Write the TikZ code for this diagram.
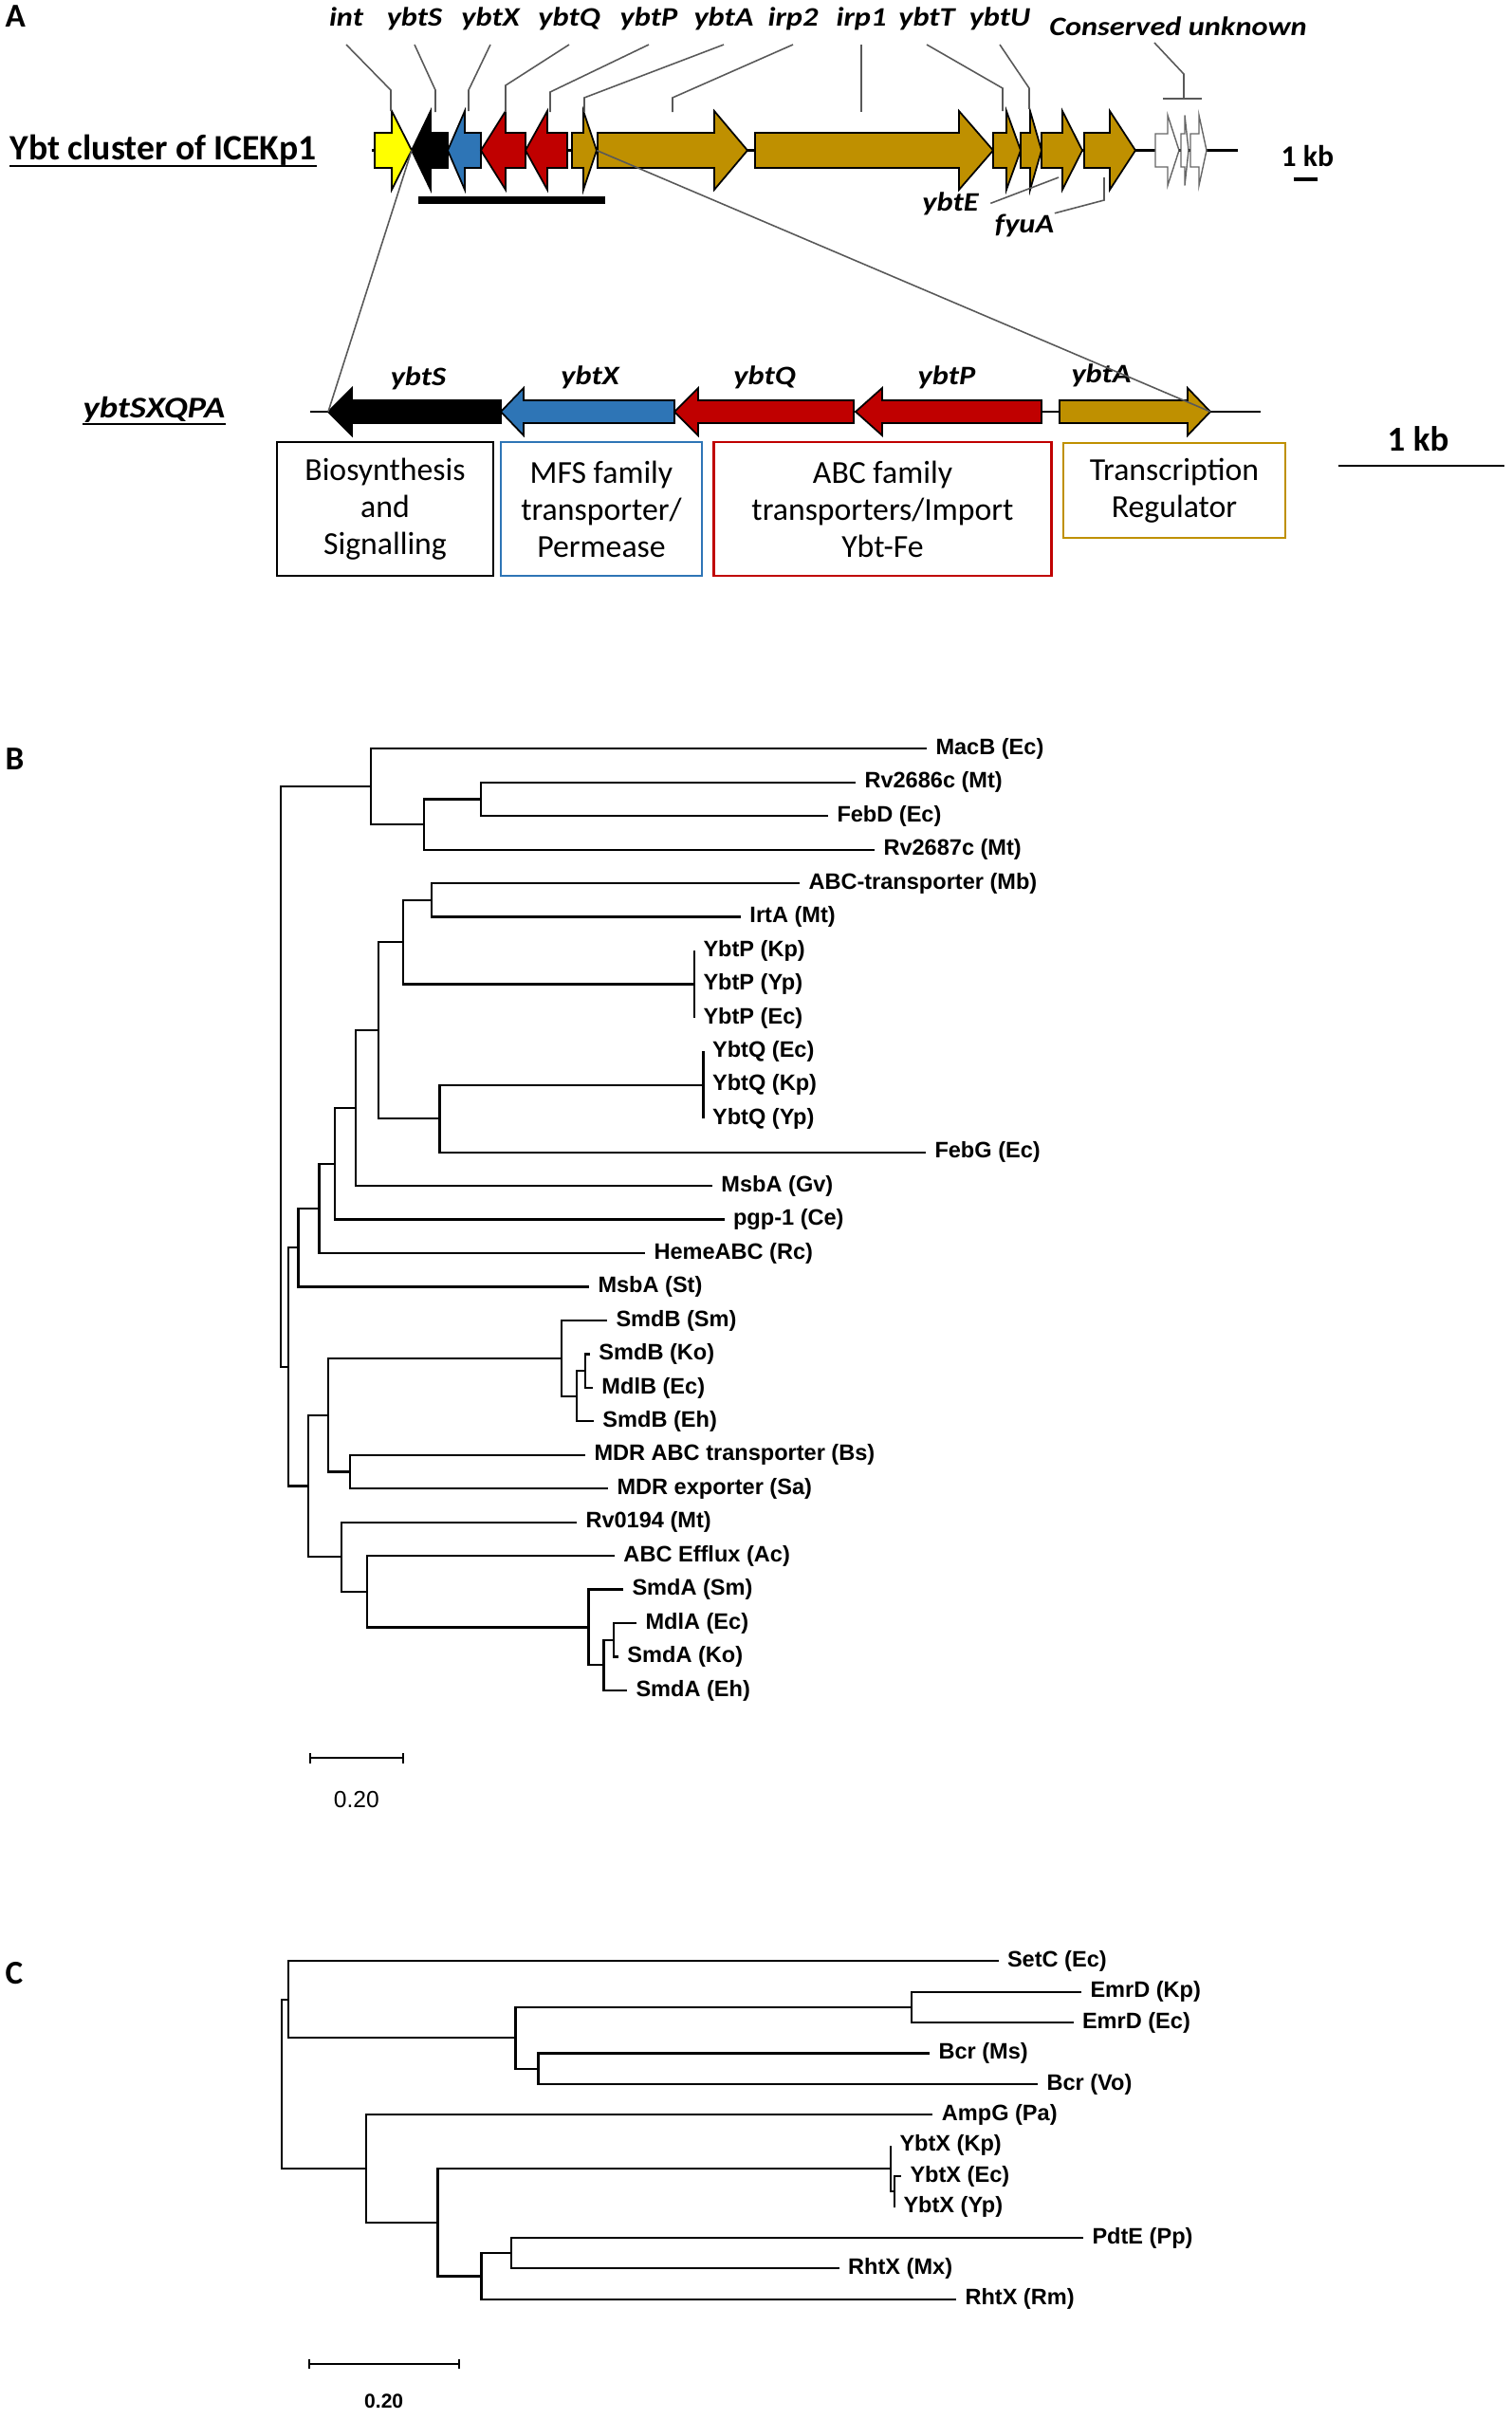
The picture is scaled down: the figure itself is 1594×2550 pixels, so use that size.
\documentclass[tikz,border=0pt]{standalone}
\usepackage{fontspec}
\setmainfont{Carlito}
\newfontfamily\treefont{Liberation Sans}
\usepackage{graphicx}
\usepackage{tikz}

\definecolor{gyellow}{HTML}{FFFF00}
\definecolor{gblue}{HTML}{2E75B6}
\definecolor{gred}{HTML}{C00000}
\definecolor{ggold}{HTML}{BF9000}

% gene name: bold italic, slightly stretched
\newcommand{\gname}[1]{\scalebox{1.15}[1]{\fontsize{8}{9.6}\selectfont\bfseries\itshape #1}}
% gene arrows: row centre \gy, body half height \gb, head half height \gh
\newcommand{\fwdgene}[4]{\filldraw[gene, fill=#4] (#1,\gy-\gb) -- (#2,\gy-\gb) -- (#2,\gy-\gh) -- (#3,\gy) -- (#2,\gy+\gh) -- (#2,\gy+\gb) -- (#1,\gy+\gb) -- cycle;}
\newcommand{\revgene}[4]{\filldraw[gene, fill=#4] (#1,\gy) -- (#2,\gy-\gh) -- (#2,\gy-\gb) -- (#3,\gy-\gb) -- (#3,\gy+\gb) -- (#2,\gy+\gb) -- (#2,\gy+\gh) -- cycle;}

\begin{document}
\begin{tikzpicture}[x=0.01cm, y=-0.01cm,
  gene/.style={draw=black, line width=0.5pt},
  blank/.style={draw=black!60, line width=0.4pt, fill=white},
  leader/.style={draw=black!65, line width=0.45pt},
  backbone/.style={line width=0.8pt},
  gtag/.style={anchor=base, inner sep=0pt},
  fbox/.style={draw, line width=0.8pt, align=center, inner sep=0pt, font=\fontsize{9.6}{11.1}\selectfont},
  plabel/.style={anchor=base west, inner sep=0pt, font=\fontsize{10}{12}\selectfont\bfseries},
  branch/.style={line width=0.65pt},
  leafB/.style={anchor=west, inner xsep=2.5pt, inner ysep=0pt, text height=4.9pt, text depth=1.4pt, font=\treefont\bfseries\fontsize{6.7}{8}\selectfont},
  scaletxt/.style={inner sep=0pt, font=\treefont\fontsize{7}{8}\selectfont}]
\useasboundingbox (0,0) rectangle (1594,2550);

% Panel labels
\node[plabel] (pa) at (5,28) {A};
\node[plabel] (pb) at (5,811) {B};
\node[plabel] (pc) at (5,2091) {C};

% ---------------- Panel A: Ybt cluster ----------------
\node[anchor=base west, inner sep=0pt, font=\fontsize{10.7}{13}\selectfont\bfseries] (lcluster) at (10,168) {Ybt cluster of ICEKp1};
\draw[line width=0.8pt] ([yshift=-0.07cm]lcluster.base west) -- ([yshift=-0.07cm]lcluster.base east);

% Draw backbone and genes
\draw[backbone] (392,158.5) -- (1305,158.5);
\def\gy{158.5}\def\gb{18.5}\def\gh{41.5}
\fwdgene{395}{413}{434}{gyellow}
\revgene{434}{454}{472}{black}
\revgene{472}{490}{507}{gblue}
\revgene{507}{533}{554}{gred}
\revgene{554}{577}{598}{gred}
\fwdgene{603}{615}{629}{ggold}
\fwdgene{630}{753}{788}{ggold}
\fwdgene{796}{1011}{1047}{ggold}
\fwdgene{1047}{1061}{1076}{ggold}
\fwdgene{1076}{1086}{1098}{ggold}
\fwdgene{1098}{1120}{1141}{ggold}
\fwdgene{1143}{1170}{1197}{ggold}
\filldraw[blank] (1218,141) -- (1231,141) -- (1231,121.5) -- (1243,158.5) -- (1231,195.5) -- (1231,176) -- (1218,176) -- cycle;
\filldraw[blank] (1245,141) -- (1249,141) -- (1249,121.5) -- (1253,158.5) -- (1249,195.5) -- (1249,176) -- (1245,176) -- cycle;
\filldraw[blank] (1255,141) -- (1264,141) -- (1264,121.5) -- (1272,158.5) -- (1264,195.5) -- (1264,176) -- (1255,176) -- cycle;

% Region bar under ybtS-ybtA
\draw[line width=2pt] (441,211) -- (638,211);

% Scale
\node[anchor=base west, inner sep=0pt, font=\fontsize{9}{11}\selectfont\bfseries] (kbtop) at (1350,175) {1 kb};
\draw[line width=1pt] (1364,189) -- (1389,189);

% Gene names and leaders
\coordinate (gint) at (412,117);
\coordinate (gybtS) at (459,118);
\coordinate (gybtX) at (494,117);
\coordinate (gybtQ) at (533,118);
\coordinate (gybtP) at (580,118);
\coordinate (gybtA) at (616,118);
\coordinate (girp2) at (709,118);
\coordinate (girp1) at (908,118);
\coordinate (gybtT) at (1057,117);
\coordinate (gybtU) at (1085,115);
\coordinate (gcons) at (1248,104);
\coordinate (gybtE) at (1116,187);
\coordinate (gfyuA) at (1164,187);

\node[gtag] (lint) at (365,27) {\gname{int}};
\node[gtag] (lybtS) at (437,27) {\gname{ybtS}};
\node[gtag] (lybtX) at (517,27) {\gname{ybtX}};
\node[gtag] (lybtQ) at (600,27) {\gname{ybtQ}};
\node[gtag] (lybtP) at (684,27) {\gname{ybtP}};
\node[gtag] (lybtA) at (763,27) {\gname{ybtA}};
\node[gtag] (lirp2) at (836,27) {\gname{irp2}};
\node[gtag] (lirp1) at (908,27) {\gname{irp1}};
\node[gtag] (lybtT) at (977,27) {\gname{ybtT}};
\node[gtag] (lybtU) at (1054,27) {\gname{ybtU}};
\node[gtag] (lcons) at (1242,37) {\gname{Conserved unknown}};
\node[gtag] (lybtE) at (1002,222) {\gname{ybtE}};
\node[gtag] (lfyuA) at (1080,245) {\gname{fyuA}};

\draw[leader] ([yshift=-0.2cm]lint.base) -- (412,95) -- (gint);
\draw[leader] ([yshift=-0.2cm]lybtS.base) -- (459,95) -- (gybtS);
\draw[leader] ([yshift=-0.2cm]lybtX.base) -- (494,95) -- (gybtX);
\draw[leader] ([yshift=-0.2cm]lybtQ.base) -- (533,90) -- (gybtQ);
\draw[leader] ([yshift=-0.2cm]lybtP.base) -- (580,97) -- (gybtP);
\draw[leader] ([yshift=-0.2cm]lybtA.base) -- (616,103) -- (gybtA);
\draw[leader] ([yshift=-0.2cm]lirp2.base) -- (709,103) -- (girp2);
\draw[leader] ([yshift=-0.2cm]lirp1.base) -- (girp1);
\draw[leader] ([yshift=-0.2cm]lybtT.base) -- (1057,93) -- (gybtT);
\draw[leader] ([yshift=-0.2cm]lybtU.base) -- (1085,93) -- (gybtU);
\draw[leader] ([xshift=-0.25cm,yshift=-0.08cm]lcons.base) -- (1248,78) -- (gcons);
\draw[leader] (1226,104) -- (1267,104);
\draw[leader] ([xshift=0.12cm]lybtE.east) -- (gybtE);
\draw[leader] (lfyuA.north east) -- (1164,211) -- (gfyuA);

% ---------------- Panel A: ybtSXQPA enlarged ----------------
\node[anchor=base west, inner sep=0pt, font=\fontsize{9}{11}\selectfont\bfseries\itshape] (lsxqpa) at (87,440) {\scalebox{1.16}[1]{ybtSXQPA}};
\draw[line width=0.8pt] ([yshift=-0.07cm]lsxqpa.base west) -- ([yshift=-0.07cm]lsxqpa.base east);

\draw[backbone] (327,434) -- (1329,434);
\def\gy{434}\def\gb{12}\def\gh{25}
\revgene{346}{371}{528}{black}
\revgene{528}{552}{711}{gblue}
\revgene{711}{736}{900}{gred}
\revgene{902}{930}{1098}{gred}
\fwdgene{1117}{1252}{1276}{ggold}

\node[gtag] (sS) at (441,406) {\gname{ybtS}};
\node[gtag] (sX) at (622,405) {\gname{ybtX}};
\node[gtag] (sQ) at (806,405) {\gname{ybtQ}};
\node[gtag] (sP) at (998,405) {\gname{ybtP}};
\node[gtag] (sA) at (1161,403) {\gname{ybtA}};

% Zoom lines
\coordinate (topS) at (434,158.5);
\coordinate (lowS) at (346,434);
\coordinate (topA) at (629,158.5);
\coordinate (lowA) at (1276,434);
\draw[leader] (topS) -- (lowS);
\draw[leader] (topA) -- (lowA);

% Function boxes
\node[fbox, draw=black, minimum width=2.28cm, minimum height=1.41cm] (fbio) at (406,536.5) {Biosynthesis\\and\\Signalling};
\node[fbox, draw=gblue, minimum width=2.12cm, minimum height=1.41cm] (fmfs) at (634,536.5) {MFS family\\transporter/\\Permease};
\node[fbox, draw=gred, minimum width=3.55cm, minimum height=1.41cm] (fabc) at (930.5,536.5) {ABC family\\transporters/Import\\Ybt-Fe};
\node[fbox, draw=ggold, minimum width=2.34cm, minimum height=1.0cm] (freg) at (1238,517) {Transcription\\Regulator};

\node[anchor=base west, inner sep=0pt, font=\fontsize{10.5}{12}\selectfont\bfseries] (kblow) at (1462,475) {1 kb};
\draw[line width=0.8pt] (1411,491) -- (1586,491);

% ---------------- Panel B: ABC transporter tree ----------------
\coordinate (bR) at (296,1135);
\coordinate (bA) at (391,829.2);
\coordinate (bA2) at (447,869.1);
\coordinate (bA3) at (507,842.5);
\coordinate (bZ) at (303.7,1440.9);
\coordinate (n314) at (314.6,1315.25);
\coordinate (n336) at (336.6,1274);
\coordinate (n352) at (352.7,1226.9);
\coordinate (n375) at (375,1168.2);
\coordinate (n399) at (399,1086.2);
\coordinate (n425) at (425,993.2);
\coordinate (n455) at (455,948.85);
\coordinate (nP) at (732,1037.5);
\coordinate (n463) at (463.5,1179.25);
\coordinate (nQ) at (741.6,1143.8);
\coordinate (n325) at (325,1566.5);
\coordinate (n346) at (346,1491.7);
\coordinate (n592) at (592,1431.85);
\coordinate (n608) at (608,1471.7);
\coordinate (n617) at (617,1445.15);
\coordinate (n369) at (369,1551.5);
\coordinate (n360) at (360,1641.25);
\coordinate (n386) at (386.8,1677.8);
\coordinate (n620) at (620.5,1715.45);
\coordinate (n636) at (636.6,1755.3);
\coordinate (n647) at (647,1728.75);

\node[leafB] (macb) at (977,789.3) {MacB (Ec)};
\node[leafB] (rv2686) at (902,824.8) {Rv2686c (Mt)};
\node[leafB] (febd) at (873,860.2) {FebD (Ec)};
\node[leafB] (rv2687) at (922,895.7) {Rv2687c (Mt)};
\node[leafB] (abct) at (843,931.1) {ABC-transporter (Mb)};
\node[leafB] (irta) at (781,966.6) {IrtA (Mt)};
\node[leafB] (ybtpkp) at (732,1002) {YbtP (Kp)};
\node[leafB] (ybtpyp) at (732,1037.5) {YbtP (Yp)};
\node[leafB] (ybtpec) at (732,1072.9) {YbtP (Ec)};
\node[leafB] (ybtqec) at (741.6,1108.4) {YbtQ (Ec)};
\node[leafB] (ybtqkp) at (741.6,1143.8) {YbtQ (Kp)};
\node[leafB] (ybtqyp) at (741.6,1179.3) {YbtQ (Yp)};
\node[leafB] (febg) at (976,1214.7) {FebG (Ec)};
\node[leafB] (msbagv) at (751,1250.2) {MsbA (Gv)};
\node[leafB] (pgp) at (763.6,1285.6) {pgp-1 (Ce)};
\node[leafB] (heme) at (680,1321.1) {HemeABC (Rc)};
\node[leafB] (msbast) at (621,1356.5) {MsbA (St)};
\node[leafB] (smdbsm) at (640,1392) {SmdB (Sm)};
\node[leafB] (smdbko) at (622,1427.4) {SmdB (Ko)};
\node[leafB] (mdlb) at (625,1462.9) {MdlB (Ec)};
\node[leafB] (smdbeh) at (626,1498.3) {SmdB (Eh)};
\node[leafB] (mdrabc) at (617,1533.8) {MDR ABC transporter (Bs)};
\node[leafB] (mdrexp) at (641,1569.2) {MDR exporter (Sa)};
\node[leafB] (rv0194) at (608,1604.7) {Rv0194 (Mt)};
\node[leafB] (abceff) at (648,1640.1) {ABC Efflux (Ac)};
\node[leafB] (smdasm) at (657,1675.6) {SmdA (Sm)};
\node[leafB] (mdla) at (671,1711) {MdlA (Ec)};
\node[leafB] (smdako) at (652,1746.5) {SmdA (Ko)};
\node[leafB] (smdaeh) at (661,1781.9) {SmdA (Eh)};

\foreach \p/\c in {bR/bA, bR/bZ, bA/macb, bA/bA2, bA2/bA3, bA2/rv2687, bA3/rv2686, bA3/febd,
  bZ/n314, bZ/n325, n314/n336, n314/msbast, n336/n352, n336/heme, n352/n375, n352/pgp,
  n375/n399, n375/msbagv, n399/n425, n399/n463, n425/n455, n425/nP, n455/abct, n455/irta,
  nP/ybtpkp, nP/ybtpyp, nP/ybtpec, n463/nQ, n463/febg, nQ/ybtqec, nQ/ybtqkp, nQ/ybtqyp,
  n325/n346, n325/n360, n346/n592, n346/n369, n592/smdbsm, n592/n608, n608/n617, n608/smdbeh,
  n617/smdbko, n617/mdlb, n369/mdrabc, n369/mdrexp, n360/rv0194, n360/n386, n386/abceff,
  n386/n620, n620/smdasm, n620/n636, n636/n647, n636/smdaeh, n647/mdla, n647/smdako}
  \draw[branch] (\p) |- (\c);

% Scale bar B
\draw[branch] (326.7,1853) -- (424.8,1853);
\draw[branch] (326.7,1848) -- (326.7,1859);
\draw[branch] (424.8,1848) -- (424.8,1859);
\node[scaletxt] (sclB) at (375.8,1896.7) {0.20};

% ---------------- Panel C: MFS transporter tree ----------------
\coordinate (cR) at (297.2,2196.9);
\coordinate (c304) at (304.3,2107.8);
\coordinate (c543) at (543.4,2148.3);
\coordinate (c960) at (960.9,2115.9);
\coordinate (c567) at (567.4,2180.7);
\coordinate (c386) at (386,2286);
\coordinate (c461) at (461.6,2342.7);
\coordinate (cX) at (939,2286);
\coordinate (cX2) at (943,2310.3);
\coordinate (c507) at (507.4,2399.4);
\coordinate (c539) at (539,2375.1);

\node[leafB] (setc) at (1052.5,2067.3) {SetC (Ec)};
\node[leafB] (emrdkp) at (1140,2099.7) {EmrD (Kp)};
\node[leafB] (emrdec) at (1131.5,2132.1) {EmrD (Ec)};
\node[leafB] (bcrms) at (980,2164.5) {Bcr (Ms)};
\node[leafB] (bcrvo) at (1094,2196.9) {Bcr (Vo)};
\node[leafB] (ampg) at (983.4,2229.3) {AmpG (Pa)};
\node[leafB] (ybtxkp) at (939,2261.7) {YbtX (Kp)};
\node[leafB] (ybtxec) at (950,2294.1) {YbtX (Ec)};
\node[leafB] (ybtxyp) at (943,2326.5) {YbtX (Yp)};
\node[leafB] (pdte) at (1142,2358.9) {PdtE (Pp)};
\node[leafB] (rhtxmx) at (884.7,2391.3) {RhtX (Mx)};
\node[leafB] (rhtxrm) at (1008,2423.7) {RhtX (Rm)};

\foreach \p/\c in {cR/c304, cR/c386, c304/setc, c304/c543, c543/c960, c543/c567,
  c960/emrdkp, c960/emrdec, c567/bcrms, c567/bcrvo, c386/ampg, c386/c461, c461/cX,
  c461/c507, cX/ybtxkp, cX/cX2, cX2/ybtxec, cX2/ybtxyp, c507/c539, c507/rhtxrm,
  c539/pdte, c539/rhtxmx}
  \draw[branch] (\p) |- (\c);

% Scale bar C
\draw[branch] (326,2491.7) -- (484,2491.7);
\draw[branch] (326,2487) -- (326,2497);
\draw[branch] (484,2487) -- (484,2497);
\node[scaletxt, font=\treefont\bfseries\fontsize{6}{7}\selectfont] (sclC) at (404.7,2531.5) {0.20};

\end{tikzpicture}
\end{document}
